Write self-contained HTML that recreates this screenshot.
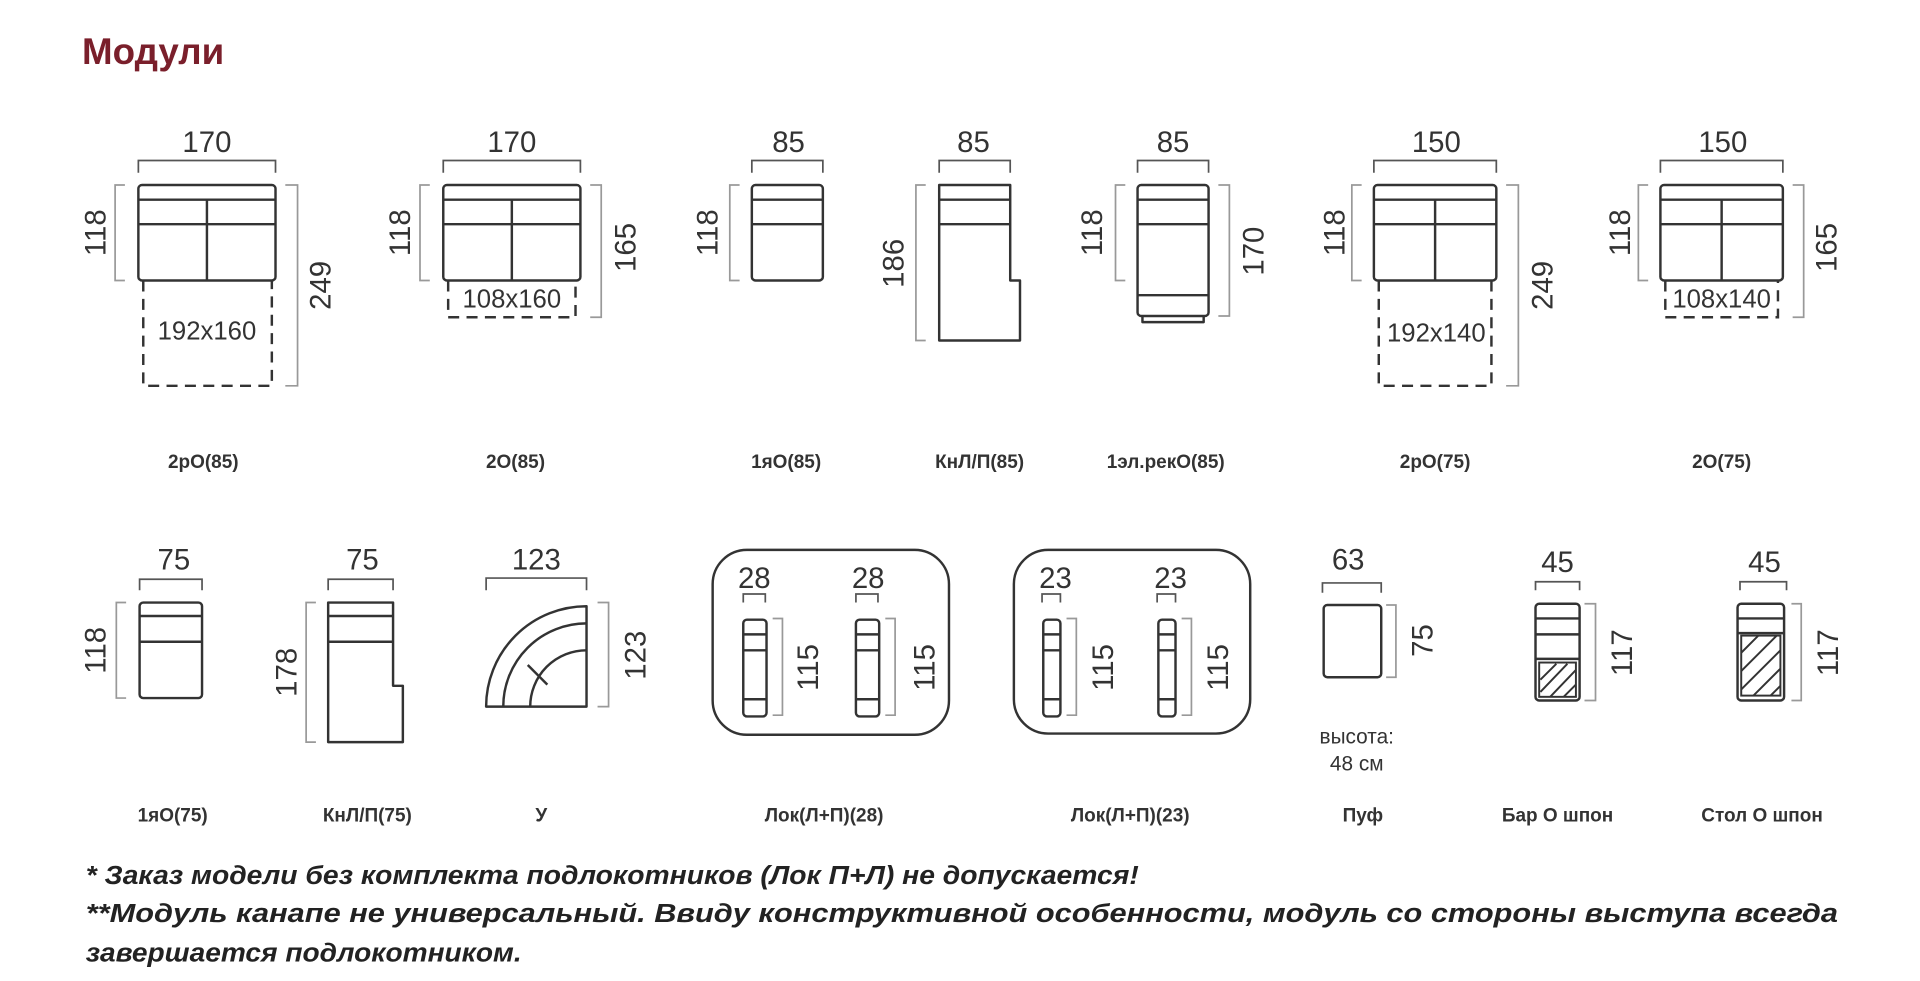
<!DOCTYPE html>
<html><head><meta charset="utf-8"><style>
html,body{margin:0;padding:0;background:#fff;width:1920px;height:981px;overflow:hidden}
svg{display:block}
.s{fill:none;stroke:#333;stroke-width:2;stroke-linejoin:round}
.d{fill:none;stroke:#999;stroke-width:1.4}
.k{fill:none;stroke:#555;stroke-width:1.4}
.ds{fill:none;stroke:#333;stroke-width:2;stroke-dasharray:9 6}
.n{font-family:"Liberation Sans Narrow","Liberation Sans",sans-serif;font-size:24px;fill:#333;text-anchor:middle}
.m{font-family:"Liberation Sans Narrow","Liberation Sans",sans-serif;font-size:21px;fill:#333;text-anchor:middle}
.l{font-family:"Liberation Sans",sans-serif;font-size:15.5px;font-weight:bold;fill:#333;text-anchor:middle}
.f{font-family:"Liberation Sans",sans-serif;font-size:21px;font-weight:bold;font-style:italic;fill:#222}
.h{fill:none;stroke:#333;stroke-width:1.6}
</style></head><body>
<svg width="1920" height="981" viewBox="0 0 1568 801" xmlns="http://www.w3.org/2000/svg">
<text x="67" y="52" style="font-family:'Liberation Sans',sans-serif;font-size:30px;font-weight:bold;fill:#7a1f2b">Модули</text>

<!-- M1 -->
<text class="n" x="169" y="124">170</text>
<path class="k" d="M113,141V131H225V141"/>
<rect class="s" x="113" y="151" width="112" height="78" rx="3"/>
<path class="s" d="M113,163H225M113,183H225M169,163V229"/>
<path class="d" d="M102,151H94V229H102"/>
<text class="n" transform="translate(86,190) rotate(-90)">118</text>
<path class="d" d="M233,151H243V315H233"/>
<text class="n" transform="translate(270,233) rotate(-90)">249</text>
<path class="ds" d="M117,229V315H222V229"/>
<text class="m" x="169" y="277">192x160</text>

<!-- M2 -->
<text class="n" x="418" y="124">170</text>
<path class="k" d="M362,141V131H474V141"/>
<rect class="s" x="362" y="151" width="112" height="78" rx="3"/>
<path class="s" d="M362,163H474M362,183H474M418,163V229"/>
<path class="d" d="M351,151H343V229H351"/>
<text class="n" transform="translate(335,190) rotate(-90)">118</text>
<path class="d" d="M482,151H491V259H482"/>
<text class="n" transform="translate(519,202) rotate(-90)">165</text>
<path class="ds" d="M366,229V259H470V229"/>
<text class="m" x="418" y="251">108x160</text>

<!-- M3 -->
<text class="n" x="644" y="124">85</text>
<path class="k" d="M614,141V131H672V141"/>
<rect class="s" x="614" y="151" width="58" height="78" rx="3"/>
<path class="s" d="M614,163H672M614,183H672"/>
<path class="d" d="M604,151H596V229H604"/>
<text class="n" transform="translate(586,190) rotate(-90)">118</text>

<!-- M4 -->
<text class="n" x="795" y="124">85</text>
<path class="k" d="M767,141V131H825V141"/>
<path class="s" d="M767,151H825V229H833V278H767Z"/>
<path class="s" d="M767,163H825M767,183H825"/>
<path class="d" d="M756,151H748V278H756"/>
<text class="n" transform="translate(738,215) rotate(-90)">186</text>

<!-- M5 -->
<text class="n" x="958" y="124">85</text>
<path class="k" d="M929,141V131H987V141"/>
<rect class="s" x="929" y="151" width="58" height="107" rx="3"/>
<path class="s" d="M929,163H987M929,183H987M929,241H987M933,258V263H983V258"/>
<path class="d" d="M919,151H911V229H919"/>
<text class="n" transform="translate(900,190) rotate(-90)">118</text>
<path class="d" d="M995,151H1004V258H995"/>
<text class="n" transform="translate(1032,205) rotate(-90)">170</text>

<!-- M6 -->
<text class="n" x="1173" y="124">150</text>
<path class="k" d="M1122,141V131H1222V141"/>
<rect class="s" x="1122" y="151" width="100" height="78" rx="3"/>
<path class="s" d="M1122,163H1222M1122,183H1222M1172,163V229"/>
<path class="d" d="M1112,151H1104V229H1112"/>
<text class="n" transform="translate(1098,190) rotate(-90)">118</text>
<path class="d" d="M1230,151H1240V315H1230"/>
<text class="n" transform="translate(1268,233) rotate(-90)">249</text>
<path class="ds" d="M1126,229V315H1218V229"/>
<text class="m" x="1173" y="279">192x140</text>

<!-- M7 -->
<text class="n" x="1407" y="124">150</text>
<path class="k" d="M1356,141V131H1456V141"/>
<rect class="s" x="1356" y="151" width="100" height="78" rx="3"/>
<path class="s" d="M1356,163H1456M1356,183H1456M1406,163V229"/>
<path class="d" d="M1346,151H1338V229H1346"/>
<text class="n" transform="translate(1331,190) rotate(-90)">118</text>
<path class="d" d="M1464,151H1473V259H1464"/>
<text class="n" transform="translate(1500,202) rotate(-90)">165</text>
<path class="ds" d="M1360,229V259H1452V229"/>
<text class="m" x="1406" y="251">108x140</text>

<g class="l">
<text x="166" y="382">2рО(85)</text>
<text x="421" y="382">2О(85)</text>
<text x="642" y="382">1яО(85)</text>
<text x="800" y="382">КнЛ/П(85)</text>
<text x="952" y="382">1эл.рекО(85)</text>
<text x="1172" y="382">2рО(75)</text>
<text x="1406" y="382">2О(75)</text>
</g>

<!-- Row2 -->
<text class="n" x="142" y="465">75</text>
<path class="k" d="M114,482V473H165V482"/>
<rect class="s" x="114" y="492" width="51" height="78" rx="3"/>
<path class="s" d="M114,503H165M114,524H165"/>
<path class="d" d="M103,492H95V570H103"/>
<text class="n" transform="translate(86,531) rotate(-90)">118</text>

<text class="n" x="296" y="465">75</text>
<path class="k" d="M268,482V473H321V482"/>
<path class="s" d="M268,492H321V560H329V606H268Z"/>
<path class="s" d="M268,503H321M268,524H321"/>
<path class="d" d="M258,492H250V606H258"/>
<text class="n" transform="translate(242,549) rotate(-90)">178</text>

<text class="n" x="438" y="465">123</text>
<path class="k" d="M397,482V472H479V482"/>
<path class="s" d="M397,577A82,82 0 0 1 479,495V577Z"/>
<path class="s" d="M411,577A68,68 0 0 1 479,509"/>
<path class="s" d="M433,577A46,46 0 0 1 479,531"/>
<path class="s" d="M431,543L447,559"/>
<path class="d" d="M488,492H497V577H488"/>
<text class="n" transform="translate(527,535) rotate(-90)">123</text>

<rect class="s" x="582" y="449" width="193" height="151" rx="28"/>
<text class="n" x="616" y="480">28</text>
<text class="n" x="709" y="480">28</text>
<path class="k" d="M607,492V485H625V492M699,492V485H717V492"/>
<rect class="s" x="607" y="506" width="19" height="79" rx="3"/>
<path class="s" d="M607,518H626M607,531H626M607,571H626"/>
<rect class="s" x="699" y="506" width="19" height="79" rx="3"/>
<path class="s" d="M699,518H718M699,531H718M699,571H718"/>
<path class="d" d="M631,505H639V584H631M723,505H731V584H723"/>
<text class="n" transform="translate(668,545) rotate(-90)">115</text>
<text class="n" transform="translate(763,545) rotate(-90)">115</text>

<rect class="s" x="828" y="449" width="193" height="150" rx="28"/>
<text class="n" x="862" y="480">23</text>
<text class="n" x="956" y="480">23</text>
<path class="k" d="M851,492V485H866V492M945,492V485H960V492"/>
<rect class="s" x="852" y="506" width="14" height="79" rx="3"/>
<path class="s" d="M852,518H866M852,531H866M852,571H866"/>
<rect class="s" x="946" y="506" width="14" height="79" rx="3"/>
<path class="s" d="M946,518H960M946,531H960M946,571H960"/>
<path class="d" d="M871,505H879V584H871M965,505H973V584H965"/>
<text class="n" transform="translate(909,545) rotate(-90)">115</text>
<text class="n" transform="translate(1003,545) rotate(-90)">115</text>

<text class="n" x="1101" y="465">63</text>
<path class="k" d="M1080,484V476H1128V484"/>
<rect class="s" x="1081" y="494" width="47" height="59" rx="3"/>
<path class="d" d="M1132,494H1140V553H1132"/>
<text class="n" transform="translate(1170,523) rotate(-90)">75</text>
<text x="1108" y="607" style="font-family:'Liberation Sans',sans-serif;font-size:17px;fill:#333;text-anchor:middle">высота:</text>
<text x="1108" y="629" style="font-family:'Liberation Sans',sans-serif;font-size:17px;fill:#333;text-anchor:middle">48 см</text>

<text class="n" x="1272" y="467">45</text>
<path class="k" d="M1254,482V475H1290V482"/>
<rect class="s" x="1254" y="493" width="36" height="79" rx="3"/>
<path class="s" d="M1254,505H1290M1254,518H1290M1254,538H1290"/>
<rect class="h" x="1257" y="541" width="30" height="28"/>
<path class="h" d="M1258,565L1280,542M1266,569L1287,547M1258,555L1271,542M1277,569L1287,559"/>
<path class="d" d="M1294,493H1303V572H1294"/>
<text class="n" transform="translate(1333,533) rotate(-90)">117</text>

<text class="n" x="1441" y="467">45</text>
<path class="k" d="M1421,482V475H1459V482"/>
<rect class="s" x="1419" y="493" width="38" height="79" rx="3"/>
<path class="s" d="M1419,505H1457M1419,517H1457"/>
<rect class="h" x="1422" y="519" width="32" height="49"/>
<path class="h" d="M1422,533L1436,519M1422,548L1451,519M1422,563L1454,531M1432,568L1454,546M1446,568L1454,560"/>
<path class="d" d="M1463,493H1471V572H1463"/>
<text class="n" transform="translate(1501,533) rotate(-90)">117</text>

<g class="l">
<text x="141" y="671">1яО(75)</text>
<text x="300" y="671">КнЛ/П(75)</text>
<text x="442" y="671">У</text>
<text x="673" y="671">Лок(Л+П)(28)</text>
<text x="923" y="671">Лок(Л+П)(23)</text>
<text x="1113" y="671">Пуф</text>
<text x="1272" y="671">Бар О шпон</text>
<text x="1439" y="671">Стол О шпон</text>
</g>

<text class="f" x="70" y="722" textLength="860" lengthAdjust="spacingAndGlyphs">* Заказ модели без комплекта подлокотников (Лок П+Л) не допускается!</text>
<text class="f" x="70" y="753" textLength="1431" lengthAdjust="spacingAndGlyphs">**Модуль  канапе  не  универсальный.  Ввиду  конструктивной  особенности,  модуль  со  стороны  выступа  всегда</text>
<text class="f" x="70" y="785" textLength="356" lengthAdjust="spacingAndGlyphs">завершается подлокотником.</text>
</svg>
</body></html>
